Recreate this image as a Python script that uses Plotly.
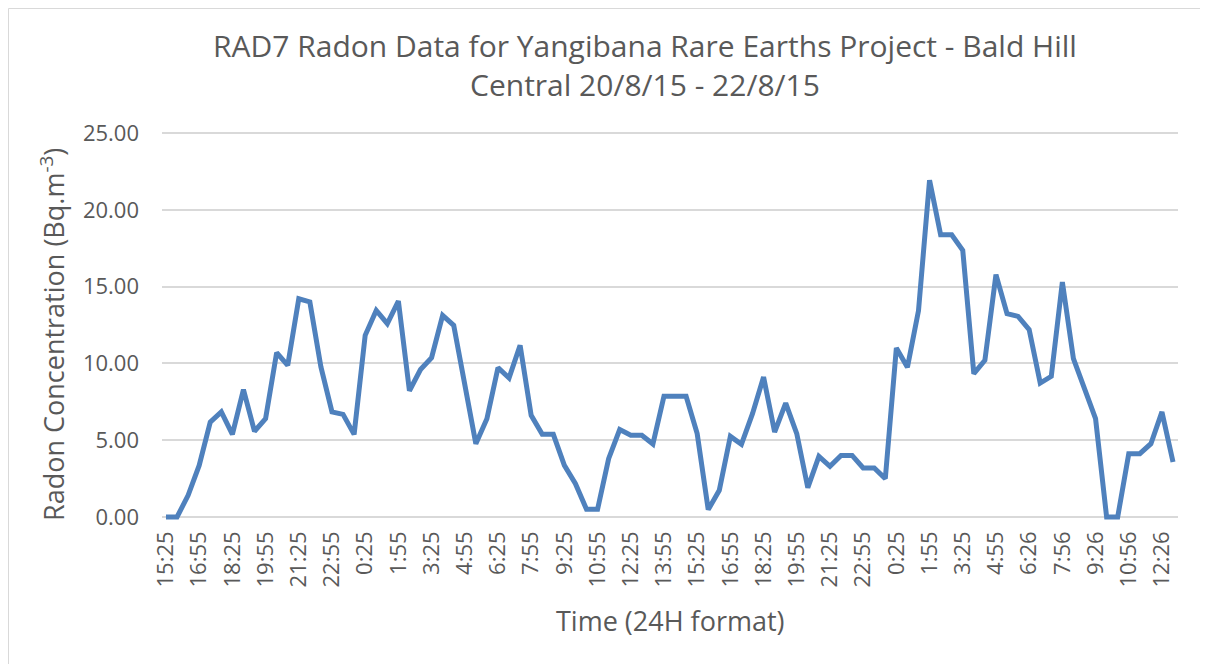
import plotly.graph_objects as go

# ---- data ----
time_labels = [
    "15:25", "15:55", "16:25", "16:55", "17:25", "17:55", "18:25", "18:55", "19:25",
    "19:55", "20:25", "20:55", "21:25", "21:55", "22:25", "22:55", "23:25", "23:55",
    "0:25", "0:55", "1:25", "1:55", "2:25", "2:55", "3:25", "3:55", "4:25",
    "4:55", "5:25", "5:55", "6:25", "6:55", "7:25", "7:55", "8:25", "8:55",
    "9:25", "9:55", "10:25", "10:55", "11:25", "11:55", "12:25", "12:55", "13:25",
    "13:55", "14:25", "14:55", "15:25", "15:55", "16:25", "16:55", "17:25", "17:55",
    "18:25", "18:55", "19:25", "19:55", "20:25", "20:55", "21:25", "21:55", "22:25",
    "22:55", "23:25", "23:55", "0:25", "0:55", "1:25", "1:55", "2:25", "2:55",
    "3:25", "3:55", "4:25", "4:55", "5:25", "5:56", "6:26", "6:56", "7:26",
    "7:56", "8:26", "8:56", "9:26", "9:56", "10:26", "10:56", "11:26", "11:56",
    "12:26", "12:56",
]
radon = [
    0.00, 0.00, 1.41, 3.36, 6.18, 6.84, 5.38, 8.29, 5.58, 6.40,
    10.70, 9.87, 14.21, 14.00, 9.77, 6.84, 6.68, 5.38, 11.83, 13.45,
    12.59, 14.06, 8.22, 9.60, 10.37, 13.13, 12.48, 8.75, 4.77, 6.40,
    9.72, 9.05, 11.18, 6.62, 5.38, 5.38, 3.36, 2.17, 0.50, 0.50,
    3.80, 5.69, 5.32, 5.32, 4.75, 7.86, 7.86, 7.86, 5.43, 0.48,
    1.74, 5.25, 4.73, 6.73, 9.11, 5.53, 7.42, 5.43, 1.91, 3.95,
    3.30, 4.01, 4.01, 3.19, 3.19, 2.50, 11.00, 9.75, 13.43, 21.92,
    18.38, 18.38, 17.36, 9.33, 10.20, 15.78, 13.24, 13.06, 12.20, 8.72,
    9.16, 15.30, 10.31, 8.25, 6.40, 0.00, 0.00, 4.12, 4.12, 4.77,
    6.84, 3.58,
]
y_ticks = [0, 5, 10, 15, 20, 25]

chart_title = "RAD7 Radon Data for Yangibana Rare Earths Project - Bald Hill<br>Central 20/8/15 - 22/8/15"
y_title = "Radon Concentration (Bq.m<sup>-3</sup>)"
x_title = "Time (24H format)"

# ---- layout geometry ----
# The page puts the figure 8px from the top-left corner, so the figure is
# sized to fit the remaining window; positions below are in page pixels.
OFF = 8
W, H = 1200, 656
L, R, T, B = 154, 30, 120, 142
PW, PH = W - L - R, H - T - B


def xp(px):
    return (px - OFF - L) / PW


def yp(py):
    return (H - B - (py - OFF)) / PH


FONT = "Open Sans"
GREY = "#595959"

idx = list(range(len(radon)))
tick_idx = idx[::3]
tick_txt = [time_labels[i] for i in tick_idx]

fig = go.Figure()
fig.add_trace(go.Scatter(
    x=idx, y=radon, mode="lines",
    line=dict(color="#4f81bd", width=5, shape="linear"),
    hovertext=time_labels, hoverinfo="text+y",
))

fig.update_layout(
    width=W, height=H,
    margin=dict(l=L, r=R, t=T, b=B, pad=0),
    paper_bgcolor="white", plot_bgcolor="white",
    showlegend=False,
    font=dict(family=FONT, color=GREY),
    xaxis=dict(
        range=[-0.36, 91.45],
        tickmode="array", tickvals=tick_idx, ticktext=tick_txt,
        tickangle=-90, tickfont=dict(size=22, color=GREY, family=FONT),
        showgrid=False, zeroline=False, showline=False, ticks="",
        ticklabelstandoff=4,
    ),
    yaxis=dict(
        range=[-0.326, 25.326],
        tickmode="array", tickvals=y_ticks,
        tickformat=".2f", tickfont=dict(size=22, color=GREY, family=FONT),
        showgrid=True, gridcolor="#d9d9d9", gridwidth=1.5,
        zeroline=False, showline=False, ticks="",
        ticklabelstandoff=22,
    ),
    annotations=[
        dict(text=chart_title, x=xp(645), y=yp(65), xref="paper", yref="paper",
             showarrow=False, xanchor="center", yanchor="middle",
             font=dict(size=30, color=GREY, family=FONT)),
        dict(text=y_title, x=xp(52), y=yp(335), xref="paper", yref="paper",
             showarrow=False, textangle=-90, xanchor="center", yanchor="middle",
             font=dict(size=27, color=GREY, family=FONT)),
        dict(text=x_title, x=xp(670), y=yp(620), xref="paper", yref="paper",
             showarrow=False, xanchor="center", yanchor="middle",
             font=dict(size=27, color=GREY, family=FONT)),
    ],
    shapes=[
        dict(type="rect", xref="paper", yref="paper",
             x0=xp(8.5), x1=xp(1205.5), y0=yp(700), y1=yp(8.5),
             line=dict(color="#d9d9d9", width=1), fillcolor="rgba(0,0,0,0)",
             layer="below"),
    ],
)

fig.write_html("out.html")
